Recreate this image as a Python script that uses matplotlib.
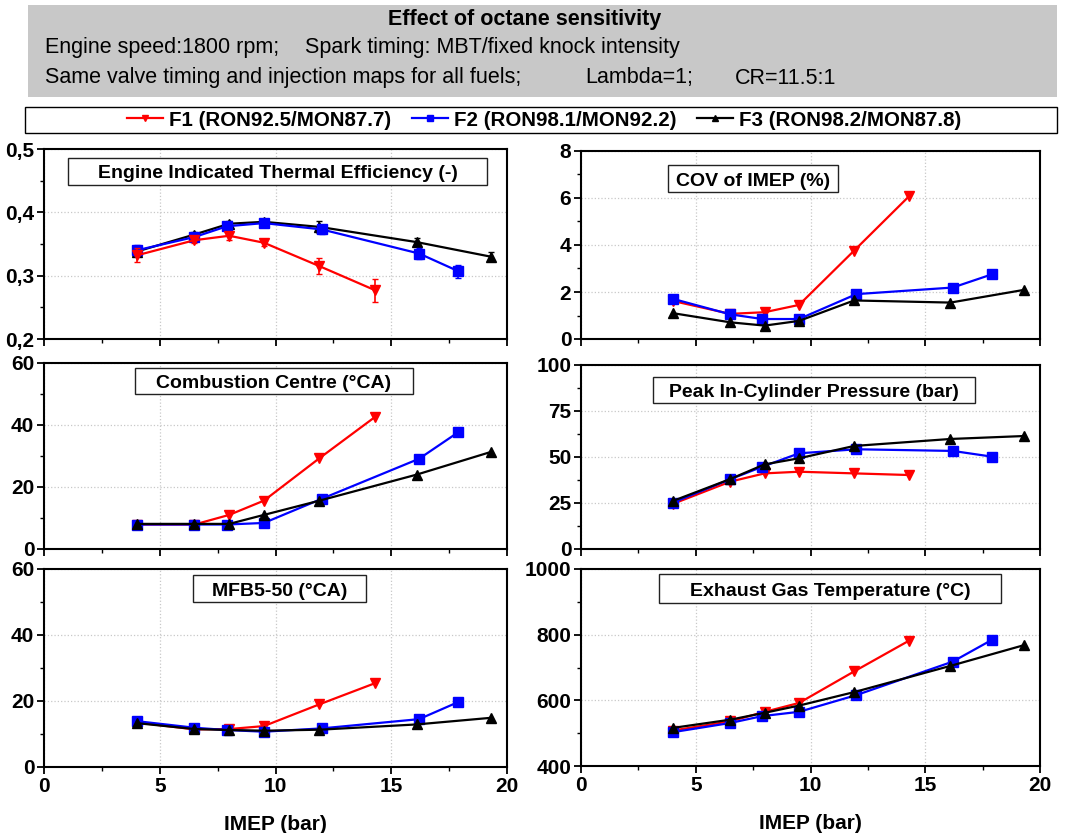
import matplotlib
matplotlib.use("Agg")
import matplotlib.pyplot as plt
from matplotlib.patches import Rectangle
from matplotlib.lines import Line2D
from matplotlib.ticker import MultipleLocator, FuncFormatter

plt.rcParams["font.family"] = ["Liberation Sans", "DejaVu Sans"]

# IMEP (bar) per fuel
imep_f1 = [4.0, 6.5, 8.0, 9.5, 11.9, 14.3]
imep_f2 = [4.0, 6.5, 7.9, 9.5, 12.0, 16.2, 17.9]
imep_f3 = [4.0, 6.5, 8.0, 9.5, 11.9, 16.1, 19.3]

# indicated thermal efficiency (-) and error bar half widths
ite_f1 = [0.332, 0.356, 0.363, 0.352, 0.315, 0.277]
ite_f2 = [0.340, 0.361, 0.378, 0.383, 0.373, 0.335, 0.307]
ite_f3 = [0.338, 0.365, 0.382, 0.385, 0.377, 0.353, 0.330]
ite_err_f1 = [0.011, 0.005, 0.006, 0.005, 0.013, 0.018]
ite_err_f2 = [0.009, 0.004, 0.005, 0.004, 0.007, 0.008, 0.010]
ite_err_f3 = [0.005, 0.004, 0.005, 0.004, 0.009, 0.006, 0.007]

# COV of IMEP (%)
cov_f1 = [1.62, 1.07, 1.14, 1.45, 3.76, 6.08]
cov_f2 = [1.71, 1.05, 0.85, 0.85, 1.91, 2.19, 2.75]
cov_f3 = [1.10, 0.71, 0.57, 0.77, 1.64, 1.55, 2.09]

# combustion centre (deg CA)
cc_f1 = [7.9, 7.9, 11.0, 15.6, 29.3, 42.6]
cc_f2 = [7.9, 7.9, 7.9, 8.4, 16.2, 29.1, 37.7]
cc_f3 = [8.1, 8.1, 8.1, 11.0, 15.6, 24.0, 31.3]

# peak in-cylinder pressure (bar)
pmax_f1 = [24.5, 36.6, 41.1, 42.0, 41.1, 40.2]
pmax_f2 = [25.2, 37.9, 44.7, 52.0, 54.2, 53.3, 50.2]
pmax_f3 = [26.1, 38.0, 46.0, 49.3, 56.0, 59.8, 61.4]

# MFB5-50 (deg CA)
mfb_f1 = [13.5, 11.4, 11.5, 12.4, 19.0, 25.4]
mfb_f2 = [13.9, 11.9, 11.2, 10.7, 11.7, 14.5, 19.7]
mfb_f3 = [13.3, 11.5, 11.2, 11.0, 11.3, 12.9, 14.9]

# exhaust gas temperature (deg C)
egt_f1 = [508, 536, 565, 592, 688, 782]
egt_f2 = [503, 531, 552, 565, 616, 718, 784]
egt_f3 = [516, 541, 562, 584, 625, 705, 768]

fuel_labels = ["F1 (RON92.5/MON87.7)", "F2 (RON98.1/MON92.2)", "F3 (RON98.2/MON87.8)"]
fuel_colors = ["#ff0000", "#0000ff", "#000000"]
fuel_markers = ["v", "s", "^"]

W, H = 1066, 833
fig = plt.figure(figsize=(W / 100, H / 100), dpi=100)


def px_axes(x0, y0, x1, y1):
    return fig.add_axes([x0 / W, 1 - y1 / H, (x1 - x0) / W, (y1 - y0) / H])


def px_rect(x0, y0, x1, y1, **kw):
    return Rectangle((x0 / W, 1 - y1 / H), (x1 - x0) / W, (y1 - y0) / H,
                     transform=fig.transFigure, **kw)


def style(ax, ylim, major, minor, xlabels=False, comma=False):
    ax.set_xlim(0, 20)
    ax.set_ylim(*ylim)
    ax.xaxis.set_major_locator(MultipleLocator(5))
    ax.xaxis.set_minor_locator(MultipleLocator(2.5))
    ax.yaxis.set_major_locator(MultipleLocator(major))
    ax.yaxis.set_minor_locator(MultipleLocator(minor))
    ax.grid(True, which="major", color="#c8c8c8", linestyle=":", linewidth=0.9)
    ax.set_axisbelow(True)
    for s in ax.spines.values():
        s.set_linewidth(1.5)
    ax.tick_params(which="major", direction="out", length=5, width=1.3,
                   labelsize=15, pad=2)
    ax.tick_params(which="minor", direction="out", length=3, width=1.0)
    for lab in ax.get_yticklabels() + ax.get_xticklabels():
        lab.set_fontweight("bold")
    if comma:
        ax.yaxis.set_major_formatter(FuncFormatter(lambda v, p: f"{v:.1f}".replace(".", ",")))
    if xlabels:
        ax.set_xlabel("IMEP (bar)", fontsize=15, fontweight="bold", labelpad=14)
    else:
        ax.tick_params(axis="x", labelbottom=False)


def title_box(text, x0, y0, x1, y1):
    # white framed label, box edges in figure pixels
    fig.add_artist(px_rect(x0, y0, x1, y1, fc="white", ec="#222222", lw=1.0, zorder=20))
    fig.text((x0 + x1) / 2 / W, 1 - ((y0 + y1) / 2 + 7) / H, text, ha="center",
             va="baseline", fontsize=14, fontweight="bold", zorder=21)


def draw(ax, f1, f2, f3, errs=None):
    xs = [imep_f1, imep_f2, imep_f3]
    for i, ys in enumerate([f1, f2, f3]):
        if errs is not None:
            ax.errorbar(xs[i], ys, yerr=errs[i], color=fuel_colors[i],
                        marker=fuel_markers[i], markersize=6.5, linewidth=1.6,
                        capsize=2.5, elinewidth=1.2, zorder=3 + (2 - i))
        else:
            ax.plot(xs[i], ys, color=fuel_colors[i], marker=fuel_markers[i],
                    markersize=6.5, linewidth=1.6, zorder=3 + i)


LX0, LX1 = 44, 507
RX0, RX1 = 581, 1040

ax1 = px_axes(LX0, 149, LX1, 339)
draw(ax1, ite_f1, ite_f2, ite_f3, errs=[ite_err_f1, ite_err_f2, ite_err_f3])
style(ax1, (0.2, 0.5), 0.1, 0.05, comma=True)

ax2 = px_axes(RX0, 151, RX1, 339)
draw(ax2, cov_f1, cov_f2, cov_f3)
style(ax2, (0, 8), 2, 1)

ax3 = px_axes(LX0, 363, LX1, 549)
draw(ax3, cc_f1, cc_f2, cc_f3)
style(ax3, (0, 60), 20, 10)

ax4 = px_axes(RX0, 365, RX1, 549)
draw(ax4, pmax_f1, pmax_f2, pmax_f3)
style(ax4, (0, 100), 25, 12.5)

ax5 = px_axes(LX0, 569, LX1, 767)
draw(ax5, mfb_f1, mfb_f2, mfb_f3)
style(ax5, (0, 60), 20, 10, xlabels=True)

ax6 = px_axes(RX0, 569, RX1, 766)
draw(ax6, egt_f1, egt_f2, egt_f3)
style(ax6, (400, 1000), 200, 100, xlabels=True)

title_box("Engine Indicated Thermal Efficiency (-)", 68, 158, 487, 185)
title_box("COV of IMEP (%)", 668, 165, 838, 192)
title_box("Combustion Centre (\u00b0CA)", 135, 368, 413, 394)
title_box("Peak In-Cylinder Pressure (bar)", 653, 377, 975, 403)
title_box("MFB5-50 (\u00b0CA)", 193, 575, 366, 602)
title_box("Exhaust Gas Temperature (\u00b0C)", 659, 574, 1001, 603)

# header box
fig.add_artist(px_rect(28, 5, 1057, 97, fc="#c8c8c8", ec="none"))
fig.text(525 / W, 1 - 20 / H, "Effect of octane sensitivity", ha="center", va="center",
         fontsize=15.5, fontweight="bold")
fig.text(45 / W, 1 - 48 / H, "Engine speed:1800 rpm;", ha="left", va="center", fontsize=15.5)
fig.text(305 / W, 1 - 48 / H, "Spark timing: MBT/fixed knock intensity", ha="left",
         va="center", fontsize=15.5)
fig.text(45 / W, 1 - 78 / H, "Same valve timing and injection maps for all fuels;",
         ha="left", va="center", fontsize=15.5)
fig.text(585 / W, 1 - 78 / H, "Lambda=1;", ha="left", va="center", fontsize=15.5)
fig.text(735 / W, 1 - 78 / H, "CR=11.5:1", ha="left", va="center", fontsize=15.5)

# legend box
fig.add_artist(px_rect(25, 107, 1057, 133, fc="white", ec="black", lw=1.0))
handles = [Line2D([], [], color=c, marker=m, markersize=5, linewidth=1.6)
           for c, m in zip(fuel_colors, fuel_markers)]
leg = fig.legend(handles, fuel_labels, loc="center", bbox_to_anchor=(544 / W, 1 - 120 / H),
                 ncol=3, frameon=False, handlelength=1.75, handletextpad=0.3,
                 columnspacing=1.0, borderpad=0.0, prop=dict(size=14.8, weight="bold"))

fig.savefig("out.png", dpi=100)
